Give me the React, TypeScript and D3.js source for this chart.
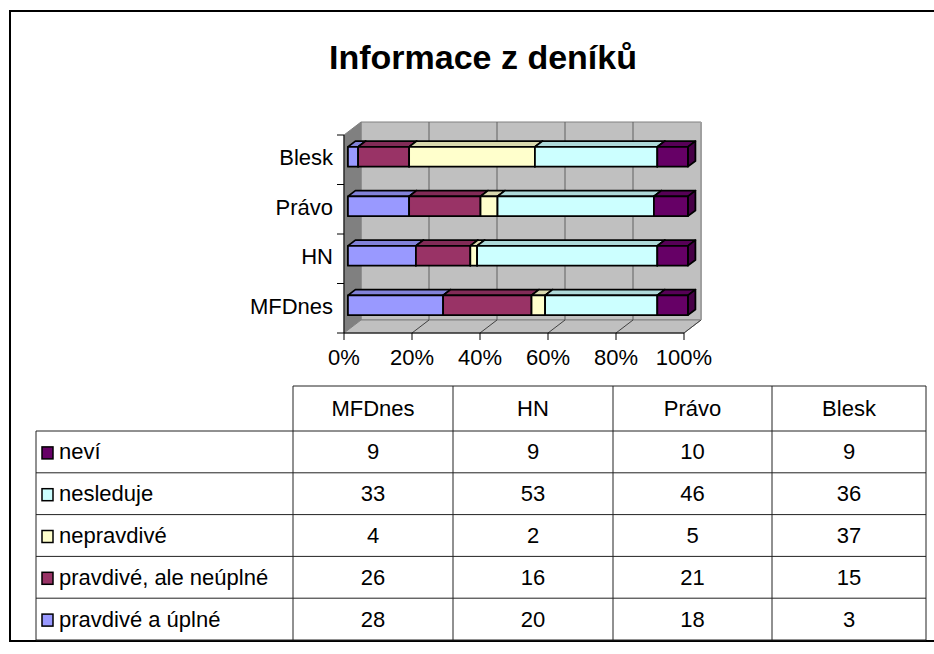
import * as d3 from 'd3';
import React from 'react';

// --------------------------------------------------------
// data (percent of readers per daily)
// --------------------------------------------------------
const categories = ['MFDnes', 'HN', 'Právo', 'Blesk'];
const seriesNames = ['pravdivé a úplné', 'pravdivé, ale neúplné', 'nepravdivé', 'nesleduje', 'neví'];
const seriesColors = ['#9999FF', '#993366', '#FFFFCC', '#CCFFFF', '#660066'];
const pravdiveUplne = [28, 20, 18, 3];
const pravdiveNeuplne = [26, 16, 21, 15];
const nepravdive = [4, 2, 5, 37];
const nesleduje = [33, 53, 46, 36];
const nevi = [9, 9, 10, 9];
const xTicks = [0, 0.2, 0.4, 0.6, 0.8, 1];

const seriesValues = [pravdiveUplne, pravdiveNeuplne, nepravdive, nesleduje, nevi];

// rows of the table go top-down in the reverse order of the stack
const tableOrder = [4, 3, 2, 1, 0];

const FONT = 'Arial, "Liberation Sans", sans-serif';

function App() {
  // rows for d3.stack
  const rows = categories.map((c, i) => {
    const r: any = { cat: c };
    seriesNames.forEach((s, j) => { r[s] = seriesValues[j][i]; });
    return r;
  });
  const stacked = d3.stack().keys(seriesNames).offset(d3.stackOffsetExpand)(rows);

  // front plane of the 3D box
  const x = d3.scaleLinear([0, 1], [344, 684]);
  const y = d3.scaleBand([...categories].reverse(), [135, 333])
    .paddingInner(0.6).paddingOuter(0.3);
  const yAxisBand = d3.scaleBand([...categories].reverse(), [135, 333]);

  // depth of the box and of the bars inside it
  const DX = 17, DY = 13;
  const f1 = 0.23, f2 = 0.67;
  const off = (f: number) => [DX * f, -DY * f];
  const [ox1, oy1] = off(f1);
  const [ox2, oy2] = off(f2);

  const x0 = x(0), x1 = x(1), yTop = 135, yBot = 333;
  const pts = (a: number[][]) => a.map(p => p.join(',')).join(' ');

  // table layout
  const colX = [36, 293, 453, 613, 772, 926];
  const headTop = 386, headBot = 431, tableBot = 640;
  const rowH = (tableBot - headBot) / 5;
  const colCenter = (i: number) => (colX[i + 1] + colX[i + 2]) / 2;
  const lineCol = '#222';

  return (
    <svg width={934} height={654} style={{ position: 'absolute', left: 0, top: 0 }} fontFamily={FONT}>
      <rect x={0} y={0} width={934} height={654} fill="#fff" />
      <rect x={10} y={11} width={1000} height={630} fill="#fff" stroke="#000" strokeWidth={2} />

      <text x={483} y={69} textAnchor="middle" fontSize={34} fontWeight="bold">Informace z deníků</text>

      {/* walls */}
      <polygon points={pts([[x0 + DX, yTop - DY], [x1 + DX, yTop - DY], [x1 + DX, yBot - DY], [x0 + DX, yBot - DY]])}
        fill="#C0C0C0" stroke="#808080" />
      <polygon points={pts([[x0, yTop], [x0 + DX, yTop - DY], [x0 + DX, yBot - DY], [x0, yBot]])}
        fill="#808080" stroke="#808080" />
      <polygon points={pts([[x0, yBot], [x0 + DX, yBot - DY], [x1 + DX, yBot - DY], [x1, yBot]])}
        fill="#C0C0C0" stroke="#808080" />
      <line x1={x1 + DX} x2={x1 + DX} y1={yTop - DY} y2={yBot - DY} stroke="#E0E0E0" strokeWidth={2} />

      {/* gridlines on the back wall and the floor */}
      {xTicks.slice(1).map(t => (
        <g key={t}>
          <line x1={x(t) + DX} x2={x(t) + DX} y1={yTop - DY} y2={yBot - DY} stroke="#606060" />
          <line x1={x(t) + DX} x2={x(t)} y1={yBot - DY} y2={yBot} stroke="#404040" />
        </g>
      ))}

      {/* bars */}
      {categories.map((c, ci) => (
        <g key={c}>
          {stacked.map((s, si) => {
            const [a, b] = s[ci];
            const xa = x(a), xb = x(b);
            const yt = y(c)!, h = y.bandwidth();
            const col = seriesColors[si];
            const top = d3.color(col)!.darker(0.45).formatHex();
            const side = d3.color(col)!.darker(1).formatHex();
            return (
              <g key={s.key} stroke="#000" strokeWidth={1.8} strokeLinejoin="round">
                <polygon fill={top} points={pts([[xa + ox1, yt + oy1], [xb + ox1, yt + oy1], [xb + ox2, yt + oy2], [xa + ox2, yt + oy2]])} />
                <polygon fill={side} points={pts([[xb + ox1, yt + oy1], [xb + ox2, yt + oy2], [xb + ox2, yt + h + oy2], [xb + ox1, yt + h + oy1]])} />
                <rect x={xa + ox1} y={yt + oy1} width={xb - xa} height={h} fill={col} />
              </g>
            );
          })}
        </g>
      ))}

      {/* category axis */}
      <line x1={x0} x2={x0} y1={yTop} y2={yBot} stroke="#000" />
      {[...yAxisBand.domain().map(c => yAxisBand(c)!), yBot].map((v, i) => (
        <line key={i} x1={x0 - 7} x2={x0} y1={v} y2={v} stroke="#000" />
      ))}
      {categories.map(c => (
        <text key={c} x={333} y={yAxisBand(c)! + yAxisBand.bandwidth() / 2 - 2} textAnchor="end"
          dominantBaseline="central" fontSize={22}>{c}</text>
      ))}

      {/* value axis */}
      <line x1={x0} x2={x1} y1={yBot} y2={yBot} stroke="#000" />
      {xTicks.map(t => (
        <g key={t}>
          <line x1={x(t)} x2={x(t)} y1={yBot} y2={yBot + 7} stroke="#000" />
          <text x={x(t)} y={365} textAnchor="middle" fontSize={22}>{d3.format('.0%')(t)}</text>
        </g>
      ))}

      {/* data table */}
      <g stroke={lineCol} strokeWidth={1}>
        <line x1={colX[1]} x2={colX[5]} y1={headTop} y2={headTop} />
        {d3.range(6).map(i => (
          <line key={i} x1={colX[0]} x2={colX[5]} y1={headBot + i * rowH} y2={headBot + i * rowH} />
        ))}
        <line x1={colX[0]} x2={colX[0]} y1={headBot} y2={tableBot} />
        {colX.slice(1).map((cx, i) => (
          <line key={i} x1={cx} x2={cx} y1={headTop} y2={tableBot} />
        ))}
      </g>
      {categories.map((c, i) => (
        <text key={c} x={colCenter(i)} y={(headTop + headBot) / 2} textAnchor="middle"
          dominantBaseline="central" fontSize={22}>{c}</text>
      ))}
      {tableOrder.map((si, r) => {
        const cy = headBot + r * rowH + rowH / 2;
        return (
          <g key={si}>
            <rect x={42} y={cy - 5} width={11} height={12} fill={seriesColors[si]} stroke="#000" strokeWidth={1.5} />
            <text x={59} y={cy} dominantBaseline="central" fontSize={22}>{seriesNames[si]}</text>
            {categories.map((c, i) => (
              <text key={c} x={colCenter(i)} y={cy} textAnchor="middle" dominantBaseline="central" fontSize={22}>
                {seriesValues[si][i]}
              </text>
            ))}
          </g>
        );
      })}
    </svg>
  );
}

export default App;
